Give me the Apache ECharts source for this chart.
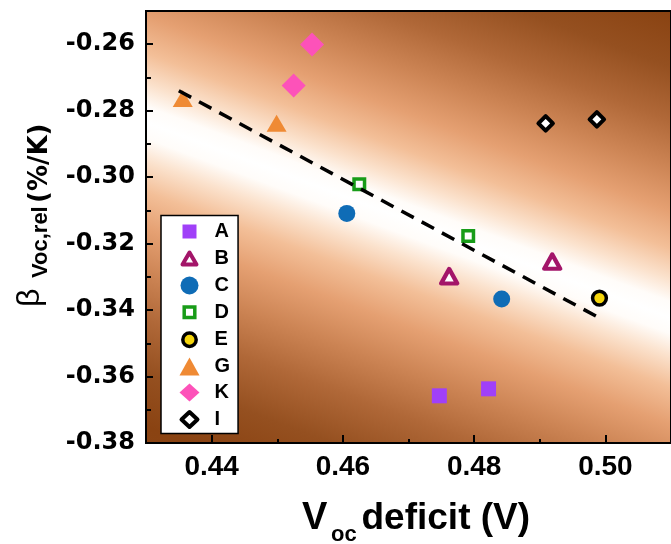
<!DOCTYPE html>
<html>
<head>
<meta charset="utf-8">
<script src="https://cdn.jsdelivr.net/npm/echarts@6/dist/echarts.min.js"></script>
<style>
  html, body { margin: 0; padding: 0; background: #ffffff; }
  #chart { width: 671px; height: 544px; }
</style>
</head>
<body>
<div id="chart"></div>
<script>
// ---- data ----
const seriesNames = ['A', 'B', 'C', 'D', 'E', 'G', 'K', 'I'];
const ptsA = [[0.4747, -0.3658], [0.4822, -0.3637]];
const ptsB = [[0.4762, -0.3298], [0.4919, -0.3254]];
const ptsC = [[0.4606, -0.3109], [0.4842, -0.3367]];
const ptsD = [[0.4625, -0.3021], [0.4791, -0.3177]];
const ptsE = [[0.4991, -0.3364]];
const ptsG = [[0.4356, -0.2763], [0.4499, -0.2838]];
const ptsK = [[0.4553, -0.2601], [0.4525, -0.2724]];
const ptsI = [[0.4909, -0.2838], [0.4987, -0.2826]];
const fitLine = [[0.4350, -0.2740], [0.4996, -0.3429]];
const xTickLabels = [0.44, 0.46, 0.48, 0.50];
const xMinorTicks = [0.45, 0.47, 0.49];
const yTickLabels = [-0.38, -0.36, -0.34, -0.32, -0.30, -0.28, -0.26];
const yMinorTicks = [-0.37, -0.35, -0.33, -0.31, -0.29, -0.27];

const seriesPoints = { A: ptsA, B: ptsB, C: ptsC, D: ptsD, E: ptsE, G: ptsG, K: ptsK, I: ptsI };

// ---- marker styles ----
const markerStyles = {
  A: { symbol: 'rect', symbolSize: 15, itemStyle: { color: '#a040f8', borderWidth: 0 } },
  B: { symbol: 'triangle', symbolSize: [16, 14.5], itemStyle: { color: '#ffffff', borderColor: '#a31569', borderWidth: 4.2, borderJoin: 'round' } },
  C: { symbol: 'circle', symbolSize: 17, itemStyle: { color: '#0f6cb6', borderWidth: 0 } },
  D: { symbol: 'rect', symbolSize: 10.5, itemStyle: { color: '#ffffff', borderColor: '#189c18', borderWidth: 3.5 } },
  E: { symbol: 'circle', symbolSize: 13.8, itemStyle: { color: '#f5d50c', borderColor: '#000000', borderWidth: 3.5 } },
  G: { symbol: 'triangle', symbolSize: [20, 17], itemStyle: { color: '#ef8a34', borderWidth: 0 } },
  K: { symbol: 'diamond', symbolSize: 24, itemStyle: { color: '#fd52b9', borderWidth: 0 } },
  I: { symbol: 'diamond', symbolSize: 14.5, itemStyle: { color: '#ffffff', borderColor: '#000000', borderWidth: 4, borderJoin: 'round' } }
};

// legend icons with a little breathing room inside the 20x18 icon box
const legendIcons = {
  A: { icon: 'path://M0 0M20 18M3 2h14v14H3z', itemStyle: { borderWidth: 0 } },
  B: { icon: 'path://M0 0M20 18M10 3L17 15H3z', itemStyle: { borderWidth: 4 } },
  C: { itemStyle: { borderWidth: 0 } },
  D: { icon: 'path://M0 0M20 18M4.7 3.7h10.6v10.6h-10.6z', itemStyle: { borderWidth: 3.5 } },
  E: { icon: 'path://M0 0M20 18M3.3 9a6.7 6.7 0 1 0 13.4 0a6.7 6.7 0 1 0 -13.4 0z', itemStyle: { borderWidth: 3.5 } },
  G: { itemStyle: { borderWidth: 0 } },
  K: { itemStyle: { borderWidth: 0 } },
  I: { icon: 'path://M0 0M20 18M10 1.5L18 9L10 16.5L2 9z', itemStyle: { borderWidth: 4 } }
};

// ---- background: white band along the trend, fading to brown ----
const grid = { left: 146, top: 11, width: 535, height: 432 };
const bandCenter = [408, 220];
const bandNormal = [-0.349, 0.937];
const bandReach = 340;
const bandProfile = [
  [0, '#ffffff'], [15, '#fffcf9'], [36, '#fbe2cd'], [65, '#f3bf98'], [100, '#e5a072'],
  [140, '#cd8555'], [185, '#b06838'], [235, '#955020'], [285, '#8a4312'], [340, '#8b4515']
];
const bandStops = [];
for (let i = bandProfile.length - 1; i >= 0; i--) {
  bandStops.push({ offset: 0.5 - bandProfile[i][0] / (2 * bandReach), color: bandProfile[i][1] });
}
for (let i = 1; i < bandProfile.length; i++) {
  bandStops.push({ offset: 0.5 + bandProfile[i][0] / (2 * bandReach), color: bandProfile[i][1] });
}
const bandGradient = {
  type: 'linear',
  x: bandCenter[0] - bandReach * bandNormal[0],
  y: bandCenter[1] - bandReach * bandNormal[1],
  x2: bandCenter[0] + bandReach * bandNormal[0],
  y2: bandCenter[1] + bandReach * bandNormal[1],
  colorStops: bandStops,
  global: true
};

const chart = echarts.init(document.getElementById('chart'), null, { renderer: 'canvas' });

const scatterSeries = seriesNames.map(name => {
  const st = markerStyles[name];
  return {
    name: name,
    type: 'scatter',
    data: seriesPoints[name],
    z: 3,
    symbol: st.symbol,
    symbolSize: st.symbolSize,
    itemStyle: Object.assign({ opacity: 1 }, st.itemStyle),
    emphasis: { disabled: true }
  };
});

const labelFont = '"Liberation Sans", Arial, sans-serif';

const option = {
  animation: false,
  backgroundColor: '#ffffff',
  grid: Object.assign({
    show: true,
    backgroundColor: bandGradient,
    borderColor: '#000000',
    borderWidth: 2,
    containLabel: false
  }, grid),
  xAxis: [
    {
      type: 'value', min: 0.43, max: 0.51, position: 'bottom',
      axisLine: { show: true, lineStyle: { color: '#000', width: 2 } },
      axisTick: { show: true, inside: true, length: 8, customValues: xTickLabels, lineStyle: { color: '#000', width: 2 } },
      axisLabel: {
        show: true, customValues: xTickLabels, margin: 10,
        formatter: v => v.toFixed(2),
        color: '#000', fontSize: 28, fontWeight: 'bold', fontFamily: labelFont
      },
      splitLine: { show: false }
    },
    {
      type: 'value', min: 0.43, max: 0.51, position: 'bottom',
      axisLine: { show: false },
      axisTick: { show: true, inside: true, length: 4, customValues: xMinorTicks, lineStyle: { color: '#000', width: 2 } },
      axisLabel: { show: false },
      splitLine: { show: false }
    }
  ],
  yAxis: [
    {
      type: 'value', min: -0.38, max: -0.25, position: 'left',
      axisLine: { show: true, lineStyle: { color: '#000', width: 2 } },
      axisTick: { show: true, inside: true, length: 7, customValues: yTickLabels, lineStyle: { color: '#000', width: 2 } },
      axisLabel: {
        show: true, customValues: yTickLabels, margin: 11,
        formatter: v => v.toFixed(2),
        color: '#000', fontSize: 24, fontWeight: 'bold', fontFamily: '"DejaVu Sans", sans-serif'
      },
      splitLine: { show: false }
    },
    {
      type: 'value', min: -0.38, max: -0.25, position: 'left',
      axisLine: { show: false },
      axisTick: { show: true, inside: true, length: 5, customValues: yMinorTicks, lineStyle: { color: '#000', width: 2 } },
      axisLabel: { show: false },
      splitLine: { show: false }
    }
  ],
  legend: {
    orient: 'vertical',
    left: 161, top: 215.5,
    padding: [6, 8, 3, 16.5],
    itemWidth: 20, itemHeight: 18, itemGap: 6,
    backgroundColor: '#ffffff',
    borderColor: '#000000',
    borderWidth: 1.5,
    selectedMode: false,
    itemStyle: { borderWidth: 3.5 },
    textStyle: { color: '#000', fontSize: 20, fontWeight: 'bold', fontFamily: labelFont, lineHeight: 20, padding: [0, 0, 0, 10] },
    data: seriesNames.map(name => Object.assign({ name: name }, legendIcons[name] || {}))
  },
  series: scatterSeries.concat([{
    name: 'fit',
    type: 'line',
    data: fitLine,
    symbol: 'none',
    z: 4,
    silent: true,
    lineStyle: { color: '#000000', width: 3.5, type: [14, 9] }
  }]),
  graphic: [
    // x axis title: V_oc deficit (V)
    { type: 'text', x: 302, y: 519, silent: true, style: { text: 'V', font: 'bold 38px ' + labelFont, fill: '#000', align: 'left', verticalAlign: 'middle' } },
    { type: 'text', x: 331, y: 535, silent: true, style: { text: 'oc', font: 'bold 22px ' + labelFont, fill: '#000', align: 'left', verticalAlign: 'middle' } },
    { type: 'text', x: 361.5, y: 519, silent: true, style: { text: 'deficit (V)', font: 'bold 37px ' + labelFont, fill: '#000', align: 'left', verticalAlign: 'middle' } },
    // y axis title: β_Voc,rel (%/K), read bottom to top
    { type: 'text', x: 30.5, y: 307, rotation: Math.PI / 2, silent: true, style: { text: 'β', font: '32px ' + labelFont, fill: '#000', align: 'left', verticalAlign: 'middle' } },
    { type: 'text', x: 40.5, y: 278, rotation: Math.PI / 2, silent: true, style: { text: 'Voc,rel', font: 'bold 22px ' + labelFont, fill: '#000', align: 'left', verticalAlign: 'middle' } },
    { type: 'text', x: 40, y: 203, rotation: Math.PI / 2, silent: true, style: { text: '(%/K)', font: 'bold 26px "DejaVu Sans", sans-serif', fill: '#000', align: 'left', verticalAlign: 'middle' } }
  ]
};

chart.setOption(option);
</script>
</body>
</html>
